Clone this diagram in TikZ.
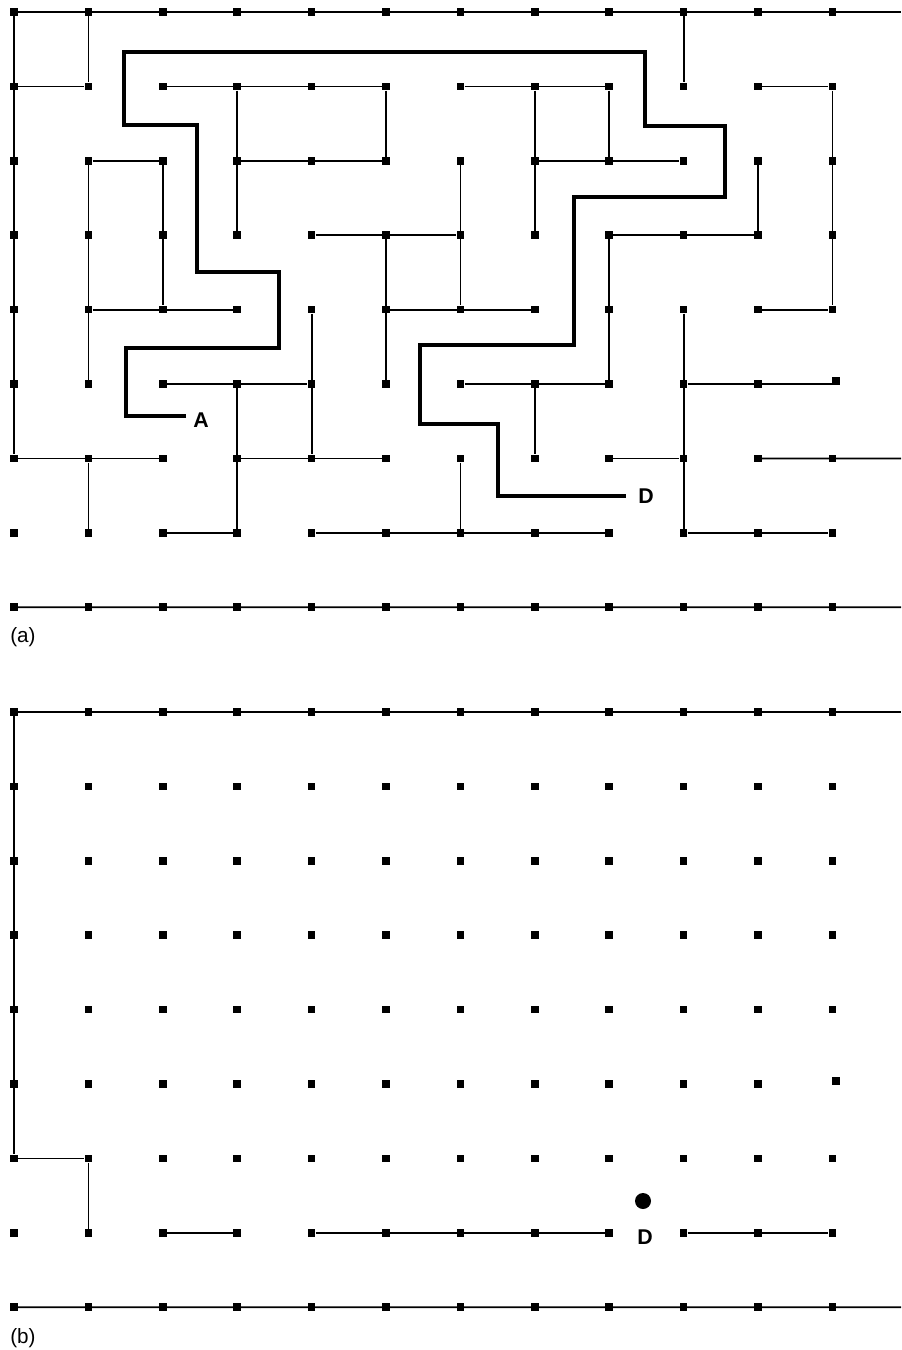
\documentclass[tikz,border=0pt]{standalone}
\usepackage{fontspec}
\setmainfont{Liberation Sans}
\begin{document}
\begin{tikzpicture}[x=0.75pt,y=-0.75pt,
  dot/.style={rectangle,fill=black,draw=none,inner sep=0pt,minimum size=5.8pt},
  wall/.style={line width=1.35pt},
  sol/.style={line width=2.8pt,line join=miter},
  lbl/.style={font=\fontsize{16}{18}\selectfont\bfseries,inner sep=0pt},
  figcap/.style={font=\fontsize{15.5}{18}\selectfont,inner sep=0pt,anchor=west},
  goal/.style={circle,fill=black,inner sep=0pt,minimum size=12pt}]
\useasboundingbox (0,0) rectangle (901,1350);

% grid points of both mazes
\foreach \p/\oy in {a/12,b/712}{
  \foreach \c in {0,...,11}{
    \foreach \r in {0,...,8}{
      \pgfmathsetmacro\px{(\c==11 && \r==5) ? 836 : 14+74.4*\c}
      \pgfmathsetmacro\py{(\c==11 && \r==5) ? \oy+369 : \oy+74.4*\r}
      \node[dot] (\p-\c-\r) at (\px,\py) {};
    }
  }
}
% free ends at the right edge
\coordinate (aE0) at (901,12);
\coordinate (aE6) at (901,458.4);
\coordinate (aE8) at (901,607.2);
\coordinate (bE0) at (901,712);
\coordinate (bE8) at (901,1307.2);

% ---------- maze (a) ----------
\draw[wall] (a-0-0) -- (aE0);
\draw[wall] (a-10-6) -- (aE6);
\draw[wall] (a-0-8) -- (aE8);
\draw[wall] (a-9-5) -- (a-9-5 -| a-11-5.west);
\foreach \u/\v in {
  0-1/1-1, 2-1/5-1, 6-1/8-1, 10-1/11-1,
  1-2/2-2, 3-2/5-2, 7-2/9-2,
  4-3/6-3, 8-3/10-3,
  1-4/3-4, 5-4/7-4, 10-4/11-4,
  2-5/4-5, 6-5/8-5,
  0-6/2-6, 3-6/5-6, 8-6/9-6,
  2-7/3-7, 4-7/8-7, 9-7/11-7,
  0-0/0-6,
  1-0/1-1, 1-2/1-5, 1-6/1-7,
  2-2/2-4,
  3-1/3-3, 3-5/3-7,
  4-4/4-6,
  5-1/5-2, 5-3/5-5,
  6-2/6-4, 6-6/6-7,
  7-1/7-3, 7-5/7-6,
  8-1/8-2, 8-3/8-5,
  9-0/9-1, 9-4/9-7,
  10-2/10-3,
  11-1/11-4}
  \draw[wall] (a-\u) -- (a-\v);

% solution path
\node[lbl] (A) at (201,420) {A};
\node[lbl] (D) at (646,496) {D};
\draw[sol] (186,416) -- (126,416) -- (126,348) -- (279,348) -- (279,272)
  -- (197,272) -- (197,125) -- (124,125) -- (124,52) -- (645,52)
  -- (645,126) -- (725,126) -- (725,197) -- (574,197) -- (574,345)
  -- (420,345) -- (420,424) -- (498,424) -- (498,496) -- (626,496);

\node[figcap] (capa) at (10,637) {(a)};

% ---------- maze (b) ----------
\draw[wall] (b-0-0) -- (bE0);
\draw[wall] (b-0-8) -- (bE8);
\foreach \u/\v in {
  0-0/0-6, 0-6/1-6, 1-6/1-7,
  2-7/3-7, 4-7/8-7, 9-7/11-7}
  \draw[wall] (b-\u) -- (b-\v);

\node[goal] (ball) at (643,1201) {};
\node[lbl] (Db) at (645,1237) {D};

\node[figcap] (capb) at (10,1338) {(b)};
\end{tikzpicture}
\end{document}
